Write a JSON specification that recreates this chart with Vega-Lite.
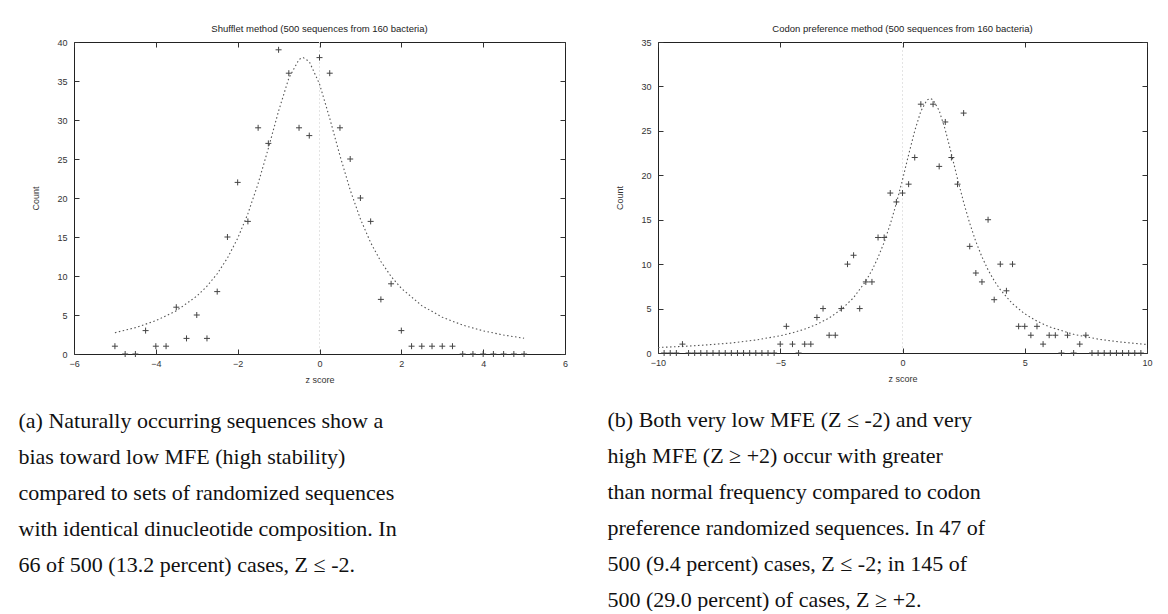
{
  "$schema": "https://vega.github.io/schema/vega-lite/v6.json",
  "background": "white",
  "padding": {"left": 18, "top": 23, "right": 0, "bottom": 0},
  "datasets": {
    "ptsA": [
      {"z": -5, "count": 1}, {"z": -4.75, "count": 0}, {"z": -4.5, "count": 0}, {"z": -4.25, "count": 3},
      {"z": -4, "count": 1}, {"z": -3.75, "count": 1}, {"z": -3.5, "count": 6}, {"z": -3.25, "count": 2},
      {"z": -3, "count": 5}, {"z": -2.75, "count": 2}, {"z": -2.5, "count": 8}, {"z": -2.25, "count": 15},
      {"z": -2, "count": 22}, {"z": -1.75, "count": 17}, {"z": -1.5, "count": 29}, {"z": -1.25, "count": 27},
      {"z": -1, "count": 39}, {"z": -0.75, "count": 36}, {"z": -0.5, "count": 29}, {"z": -0.25, "count": 28},
      {"z": 0, "count": 38}, {"z": 0.25, "count": 36}, {"z": 0.5, "count": 29}, {"z": 0.75, "count": 25},
      {"z": 1, "count": 20}, {"z": 1.25, "count": 17}, {"z": 1.5, "count": 7}, {"z": 1.75, "count": 9},
      {"z": 2, "count": 3}, {"z": 2.25, "count": 1}, {"z": 2.5, "count": 1}, {"z": 2.75, "count": 1},
      {"z": 3, "count": 1}, {"z": 3.25, "count": 1}, {"z": 3.5, "count": 0}, {"z": 3.75, "count": 0},
      {"z": 4, "count": 0}, {"z": 4.25, "count": 0}, {"z": 4.5, "count": 0}, {"z": 4.75, "count": 0},
      {"z": 5, "count": 0}
    ],
    "fitA": [
      {"z": -5, "count": 2.73}, {"z": -4.5, "count": 3.38}, {"z": -4, "count": 4.27}, {"z": -3.5, "count": 5.54},
      {"z": -3, "count": 7.41}, {"z": -2.75, "count": 8.69}, {"z": -2.5, "count": 10.29}, {"z": -2.25, "count": 12.3},
      {"z": -2, "count": 14.83}, {"z": -1.75, "count": 17.99}, {"z": -1.5, "count": 21.86}, {"z": -1.25, "count": 26.37},
      {"z": -1, "count": 31.15}, {"z": -0.75, "count": 35.36}, {"z": -0.5, "count": 37.77}, {"z": -0.4, "count": 38},
      {"z": -0.25, "count": 37.49}, {"z": 0, "count": 34.62}, {"z": 0.25, "count": 30.21}, {"z": 0.5, "count": 25.43},
      {"z": 0.75, "count": 21.03}, {"z": 1, "count": 17.3}, {"z": 1.25, "count": 14.28}, {"z": 1.5, "count": 11.86},
      {"z": 1.75, "count": 9.94}, {"z": 2, "count": 8.42}, {"z": 2.5, "count": 6.2}, {"z": 3, "count": 4.72},
      {"z": 3.5, "count": 3.7}, {"z": 4, "count": 2.97}, {"z": 4.5, "count": 2.43}, {"z": 5, "count": 2.02}
    ],
    "ptsB": [
      {"z": -9.75, "count": 0}, {"z": -9.5, "count": 0}, {"z": -9.25, "count": 0}, {"z": -9, "count": 1},
      {"z": -8.75, "count": 0}, {"z": -8.5, "count": 0}, {"z": -8.25, "count": 0}, {"z": -8, "count": 0},
      {"z": -7.75, "count": 0}, {"z": -7.5, "count": 0}, {"z": -7.25, "count": 0}, {"z": -7, "count": 0},
      {"z": -6.75, "count": 0}, {"z": -6.5, "count": 0}, {"z": -6.25, "count": 0}, {"z": -6, "count": 0},
      {"z": -5.75, "count": 0}, {"z": -5.5, "count": 0}, {"z": -5.25, "count": 0},
      {"z": -5, "count": 1}, {"z": -4.75, "count": 3}, {"z": -4.5, "count": 1}, {"z": -4.25, "count": 0},
      {"z": -4, "count": 1}, {"z": -3.75, "count": 1}, {"z": -3.5, "count": 4}, {"z": -3.25, "count": 5},
      {"z": -3, "count": 2}, {"z": -2.75, "count": 2}, {"z": -2.5, "count": 5}, {"z": -2.25, "count": 10},
      {"z": -2, "count": 11}, {"z": -1.75, "count": 5}, {"z": -1.5, "count": 8}, {"z": -1.25, "count": 8},
      {"z": -1, "count": 13}, {"z": -0.75, "count": 13}, {"z": -0.5, "count": 18}, {"z": -0.25, "count": 17},
      {"z": 0, "count": 18}, {"z": 0.25, "count": 19}, {"z": 0.5, "count": 22}, {"z": 0.75, "count": 28},
      {"z": 1.25, "count": 28}, {"z": 1.5, "count": 21}, {"z": 1.75, "count": 26}, {"z": 2, "count": 22},
      {"z": 2.25, "count": 19}, {"z": 2.5, "count": 27}, {"z": 2.75, "count": 12}, {"z": 3, "count": 9},
      {"z": 3.25, "count": 8}, {"z": 3.5, "count": 15}, {"z": 3.75, "count": 6}, {"z": 4, "count": 10},
      {"z": 4.25, "count": 7}, {"z": 4.5, "count": 10}, {"z": 4.75, "count": 3}, {"z": 5, "count": 3},
      {"z": 5.25, "count": 2}, {"z": 5.5, "count": 3}, {"z": 5.75, "count": 1}, {"z": 6, "count": 2},
      {"z": 6.25, "count": 2}, {"z": 6.5, "count": 0}, {"z": 6.75, "count": 2}, {"z": 7, "count": 0},
      {"z": 7.25, "count": 1}, {"z": 7.5, "count": 2}, {"z": 7.75, "count": 0}, {"z": 8, "count": 0},
      {"z": 8.25, "count": 0}, {"z": 8.5, "count": 0}, {"z": 8.75, "count": 0}, {"z": 9, "count": 0},
      {"z": 9.25, "count": 0}, {"z": 9.5, "count": 0}, {"z": 9.75, "count": 0}
    ],
    "fitB": [
      {"z": -10, "count": 0.62}, {"z": -9, "count": 0.74}, {"z": -8, "count": 0.91}, {"z": -7, "count": 1.13},
      {"z": -6, "count": 1.46}, {"z": -5, "count": 1.94}, {"z": -4.5, "count": 2.27}, {"z": -4, "count": 2.69},
      {"z": -3.5, "count": 3.23}, {"z": -3, "count": 3.94}, {"z": -2.5, "count": 4.91}, {"z": -2, "count": 6.23},
      {"z": -1.5, "count": 8.09}, {"z": -1.25, "count": 9.3}, {"z": -1, "count": 10.75}, {"z": -0.75, "count": 12.47},
      {"z": -0.5, "count": 14.5}, {"z": -0.25, "count": 16.86}, {"z": 0, "count": 19.5}, {"z": 0.25, "count": 22.31},
      {"z": 0.5, "count": 25}, {"z": 0.75, "count": 27.21}, {"z": 1, "count": 28.47}, {"z": 1.13, "count": 28.65},
      {"z": 1.25, "count": 28.5}, {"z": 1.5, "count": 27.28}, {"z": 1.75, "count": 25.11}, {"z": 2, "count": 22.42},
      {"z": 2.25, "count": 19.61}, {"z": 2.5, "count": 16.96}, {"z": 2.75, "count": 14.59}, {"z": 3, "count": 12.54},
      {"z": 3.25, "count": 10.81}, {"z": 3.5, "count": 9.35}, {"z": 3.75, "count": 8.14}, {"z": 4, "count": 7.12},
      {"z": 4.5, "count": 5.54}, {"z": 5, "count": 4.41}, {"z": 5.5, "count": 3.58}, {"z": 6, "count": 2.95},
      {"z": 7, "count": 2.1}, {"z": 8, "count": 1.56}, {"z": 9, "count": 1.21}, {"z": 10, "count": 0.96}
    ],
    "zero": [{"z": 0}]
  },
  "hconcat": [
    {
      "title": {
        "text": ["(a) Naturally occurring sequences show a", "bias toward low MFE (high stability)", "compared to sets of randomized sequences", "with identical dinucleotide composition. In", "66 of 500 (13.2 percent) cases, Z ≤ -2."],
        "orient": "bottom", "anchor": "start", "frame": "bounds", "offset": 26, "dx": -13,
        "font": "Liberation Serif", "fontSize": 22, "lineHeight": 36, "color": "#111"
      },
      "vconcat": [
        {
          "width": 491, "height": 312,
          "title": {"text": "Shufflet method (500 sequences from 160 bacteria)", "anchor": "middle", "frame": "group"},
          "layer": [
            {
              "data": {"name": "zero"},
              "mark": {"type": "rule", "color": "#e4e4e4", "strokeDash": [2, 2]},
              "encoding": {"x": {"field": "z", "type": "quantitative", "axis": null}}
            },
            {
              "data": {"name": "fitA"},
              "mark": {"type": "line", "color": "#555", "strokeWidth": 1.1, "strokeDash": [1.5, 2.5]},
              "encoding": {
                "x": {"field": "z", "type": "quantitative", "scale": {"domain": [-6, 6], "nice": false},
                      "axis": {"orient": "top", "labels": false, "title": null, "values": [-6, -4, -2, 0, 2, 4, 6]}},
                "y": {"field": "count", "type": "quantitative", "scale": {"domain": [0, 40], "nice": false},
                      "axis": {"orient": "right", "labels": false, "title": null, "values": [0, 5, 10, 15, 20, 25, 30, 35, 40]}}
              }
            },
            {
              "data": {"name": "ptsA"},
              "mark": {"type": "point", "shape": "M-1,0L1,0M0,-1L0,1", "filled": false, "size": 36, "strokeWidth": 1, "color": "#444", "opacity": 1, "clip": false},
              "encoding": {
                "x": {"field": "z", "type": "quantitative", "axis": {"title": "z score", "values": [-6, -4, -2, 0, 2, 4, 6], "labelPadding": 10, "titlePadding": 7}},
                "y": {"field": "count", "type": "quantitative", "axis": {"title": "Count", "values": [0, 5, 10, 15, 20, 25, 30, 35, 40], "labelPadding": 12, "titlePadding": 16}}
              }
            }
          ],
          "resolve": {"axis": {"x": "independent", "y": "independent"}}
        }
      ]
    },
    {
      "title": {
        "text": ["(b) Both very low MFE (Z ≤ -2) and very", "high MFE (Z ≥ +2) occur with greater", "than normal frequency compared to codon", "preference randomized sequences. In 47 of", "500 (9.4 percent) cases, Z ≤ -2; in 145 of", "500 (29.0 percent) of cases, Z ≥ +2."],
        "orient": "bottom", "anchor": "start", "frame": "bounds", "offset": 26, "dx": -8,
        "font": "Liberation Serif", "fontSize": 22, "lineHeight": 36, "color": "#111"
      },
      "vconcat": [
        {
          "width": 489, "height": 311,
          "title": {"text": "Codon preference method (500 sequences from 160 bacteria)", "anchor": "middle", "frame": "group"},
          "layer": [
            {
              "data": {"name": "zero"},
              "mark": {"type": "rule", "color": "#e4e4e4", "strokeDash": [2, 2]},
              "encoding": {"x": {"field": "z", "type": "quantitative", "axis": null}}
            },
            {
              "data": {"name": "fitB"},
              "mark": {"type": "line", "color": "#555", "strokeWidth": 1.1, "strokeDash": [1.5, 2.5]},
              "encoding": {
                "x": {"field": "z", "type": "quantitative", "scale": {"domain": [-10, 10], "nice": false},
                      "axis": {"orient": "top", "labels": false, "title": null, "values": [-10, -5, 0, 5, 10]}},
                "y": {"field": "count", "type": "quantitative", "scale": {"domain": [0, 35], "nice": false},
                      "axis": {"orient": "right", "labels": false, "title": null, "values": [0, 5, 10, 15, 20, 25, 30, 35]}}
              }
            },
            {
              "data": {"name": "ptsB"},
              "mark": {"type": "point", "shape": "M-1,0L1,0M0,-1L0,1", "filled": false, "size": 36, "strokeWidth": 1, "color": "#444", "opacity": 1, "clip": false},
              "encoding": {
                "x": {"field": "z", "type": "quantitative", "axis": {"title": "z score", "values": [-10, -5, 0, 5, 10], "labelPadding": 10, "titlePadding": 7}},
                "y": {"field": "count", "type": "quantitative", "axis": {"title": "Count", "values": [0, 5, 10, 15, 20, 25, 30, 35], "labelPadding": 12, "titlePadding": 16}}
              }
            }
          ],
          "resolve": {"axis": {"x": "independent", "y": "independent"}}
        }
      ]
    }
  ],
  "spacing": 38,
  "config": {
    "view": {"stroke": "#222", "strokeWidth": 1},
    "axis": {
      "labelFont": "Liberation Sans", "labelFontSize": 9, "labelColor": "#333", "labelFlush": false, "labelOverlap": false,
      "titleFont": "Liberation Sans", "titleFontSize": 9, "titleFontWeight": "normal", "titleColor": "#333",
      "grid": false, "domain": false, "tickColor": "#333", "tickSize": -5
    },
    "title": {
      "font": "Liberation Sans", "fontSize": 9.5, "fontWeight": "normal", "color": "#222", "offset": 5
    },
    "concat": {"spacing": 0}
  }
}
